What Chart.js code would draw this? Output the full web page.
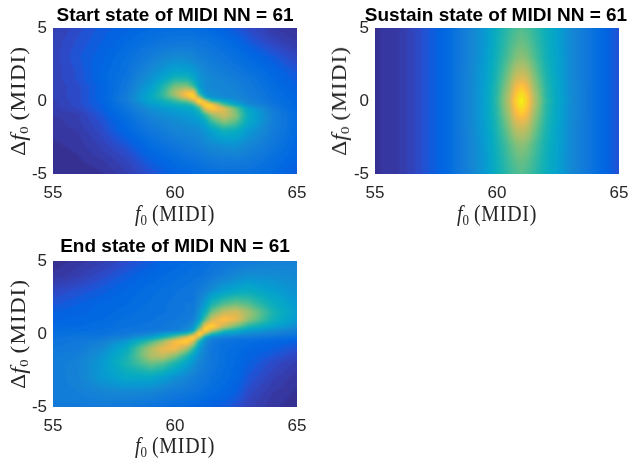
<!DOCTYPE html>
<html>
<head>
<meta charset="utf-8">
<style>
  html, body { margin: 0; background: #fff; }
  #page { position: relative; width: 631px; height: 458px; overflow: hidden; }
  canvas { position: absolute; }
  .axis-label {
    position: absolute; white-space: nowrap; color: #262626;
    font: 20px "Liberation Serif", serif; line-height: 20px;
    transform: translate(-50%, -50%) scaleY(1.15);
  }
  .axis-label.rot { transform: translate(-50%, -50%) rotate(-90deg) scaleX(1.18); }
  .axis-label sub { font-size: 13px; line-height: 0; vertical-align: -3px; }
  .axis-label .unit { letter-spacing: 0.7px; margin-left: 5px; }
</style>
<script src="https://cdn.jsdelivr.net/npm/chart.js@4/dist/chart.umd.min.js"></script>
</head>
<body>
<div id="page">
  <canvas id="startChart" width="350" height="230" style="left:0;top:0"></canvas>
  <canvas id="sustainChart" width="312" height="230" style="left:340px;top:0"></canvas>
  <canvas id="endChart" width="350" height="228" style="left:0;top:230px"></canvas>

  <div class="axis-label" style="left:175px;top:213px"><i>f</i><sub>0</sub><span class="unit">(MIDI)</span></div>
  <div class="axis-label" style="left:497px;top:213px"><i>f</i><sub>0</sub><span class="unit">(MIDI)</span></div>
  <div class="axis-label" style="left:175px;top:445px"><i>f</i><sub>0</sub><span class="unit">(MIDI)</span></div>
  <div class="axis-label rot" style="left:18px;top:101px">&Delta;<i>f</i><sub>0</sub><span class="unit">(MIDI)</span></div>
  <div class="axis-label rot" style="left:339px;top:101px">&Delta;<i>f</i><sub>0</sub><span class="unit">(MIDI)</span></div>
  <div class="axis-label rot" style="left:18px;top:334px">&Delta;<i>f</i><sub>0</sub><span class="unit">(MIDI)</span></div>
</div>

<script>
// sample positions of every heatmap, finer around the note centre
const f0Values = [55, 56, 57, 58, 59, 59.5, 60, 60.5, 60.75, 61, 61.25, 61.5, 62, 62.5, 63, 64, 65];
const deltaValues = [5, 4, 3, 2, 1.5, 1, 0.5, 0.25, 0, -0.25, -0.5, -1, -1.5, -2, -3, -4, -5];

// one row per deltaValues entry, one column per f0Values entry (0..100 of the colour range)
const startValues = [
  [5, 8, 11, 13, 15, 16, 16, 16, 16, 15, 15, 14, 12, 10, 8, 4, 2],
  [6, 9, 12, 15, 18, 19, 20, 20, 20, 19, 19, 18, 16, 14, 11, 7, 4],
  [6, 10, 13, 17, 22, 25, 27, 26, 25, 23, 22, 21, 19, 17, 15, 11, 7],
  [6, 9, 14, 18, 27, 32, 37, 36, 33, 29, 26, 24, 22, 20, 18, 14, 10],
  [6, 9, 14, 19, 30, 37, 47, 46, 40, 31, 28, 26, 24, 22, 20, 15, 11],
  [6, 8, 13, 20, 34, 46, 60, 62, 52, 33, 27, 26, 25, 24, 21, 16, 12],
  [6, 8, 13, 21, 38, 50, 68, 88, 90, 45, 30, 28, 26, 25, 22, 17, 13],
  [6, 8, 13, 22, 39, 49, 60, 80, 94, 70, 38, 30, 27, 25, 23, 17, 13],
  [5, 8, 13, 22, 37, 42, 50, 58, 70, 100, 76, 50, 38, 30, 24, 18, 14],
  [5, 8, 12, 20, 33, 38, 42, 45, 50, 72, 94, 88, 54, 38, 27, 19, 14],
  [5, 7, 12, 19, 29, 32, 35, 38, 40, 50, 80, 90, 78, 58, 36, 21, 14],
  [4, 5, 10, 17, 25, 28, 30, 32, 34, 38, 48, 62, 74, 62, 40, 23, 15],
  [3, 5, 9, 15, 22, 25, 27, 29, 30, 32, 38, 48, 60, 54, 38, 23, 15],
  [3, 4, 8, 14, 20, 22, 25, 26, 27, 28, 31, 36, 44, 42, 33, 22, 15],
  [2, 3, 6, 10, 16, 18, 20, 22, 23, 24, 26, 27, 29, 30, 26, 20, 14],
  [1, 2, 4, 7, 12, 14, 16, 18, 18, 19, 20, 21, 22, 22, 21, 17, 13],
  [1, 1, 2, 5, 9, 11, 13, 14, 15, 15, 16, 16, 17, 17, 17, 15, 11]
];
const sustainValues = [
  [2, 4, 9, 15, 26, 32, 42, 50, 53, 55, 53, 50, 42, 35, 27, 17, 9],
  [2, 4, 9, 15, 26, 32, 43, 52, 56, 58, 56, 52, 43, 35, 27, 17, 9],
  [2, 4, 9, 15, 26, 33, 44, 55, 60, 63, 60, 55, 44, 36, 27, 17, 9],
  [2, 4, 9, 15, 27, 34, 46, 60, 69, 72, 69, 60, 46, 36, 27, 17, 9],
  [2, 4, 9, 15, 27, 34, 47, 63, 74, 78, 74, 63, 47, 37, 27, 17, 9],
  [2, 4, 9, 15, 27, 35, 48, 66, 80, 86, 80, 66, 48, 37, 28, 17, 9],
  [2, 4, 9, 15, 27, 35, 49, 69, 85, 94, 85, 69, 49, 37, 28, 17, 9],
  [2, 4, 9, 15, 27, 35, 49, 70, 87, 97, 87, 70, 49, 38, 28, 17, 9],
  [2, 4, 9, 15, 27, 35, 50, 71, 88, 100, 88, 71, 50, 38, 28, 17, 9],
  [2, 4, 9, 15, 27, 35, 49, 70, 87, 97, 87, 70, 49, 38, 28, 17, 9],
  [2, 4, 9, 15, 27, 35, 49, 69, 85, 94, 85, 69, 49, 37, 28, 17, 9],
  [2, 4, 9, 15, 27, 35, 48, 66, 80, 86, 80, 66, 48, 37, 28, 17, 9],
  [2, 4, 9, 15, 27, 34, 47, 63, 74, 78, 74, 63, 47, 37, 27, 17, 9],
  [2, 4, 9, 15, 27, 34, 46, 60, 69, 72, 69, 60, 46, 36, 27, 17, 9],
  [2, 4, 9, 15, 26, 33, 44, 55, 60, 63, 60, 55, 44, 36, 27, 17, 9],
  [2, 4, 9, 15, 26, 32, 43, 52, 56, 58, 56, 52, 43, 35, 27, 17, 9],
  [2, 4, 9, 15, 26, 32, 42, 50, 53, 55, 53, 50, 42, 35, 27, 17, 9]
];
const endValues = [
  [1, 3, 5, 8, 11, 13, 14, 15, 16, 16, 17, 18, 19, 20, 21, 23, 24],
  [3, 5, 8, 11, 14, 15, 16, 17, 18, 18, 19, 20, 23, 26, 28, 28, 26],
  [7, 9, 11, 14, 16, 17, 18, 19, 19, 22, 24, 28, 34, 38, 40, 34, 29],
  [10, 12, 14, 15, 17, 18, 19, 20, 20, 26, 35, 46, 56, 60, 56, 42, 32],
  [12, 13, 14, 16, 18, 18, 19, 20, 21, 30, 42, 58, 72, 76, 66, 46, 33],
  [13, 14, 15, 17, 18, 19, 20, 21, 23, 34, 55, 74, 86, 80, 64, 44, 32],
  [15, 15, 16, 18, 19, 20, 21, 24, 30, 52, 88, 92, 72, 58, 46, 36, 27],
  [16, 16, 17, 19, 20, 21, 22, 28, 36, 72, 94, 74, 50, 42, 35, 28, 23],
  [17, 18, 18, 20, 26, 33, 40, 48, 65, 100, 66, 46, 34, 31, 27, 23, 20],
  [18, 19, 20, 25, 36, 46, 60, 82, 94, 68, 34, 26, 22, 20, 20, 18, 16],
  [19, 20, 23, 32, 52, 65, 84, 92, 76, 44, 28, 21, 18, 17, 16, 14, 12],
  [20, 21, 27, 40, 68, 80, 82, 66, 50, 32, 24, 20, 17, 16, 14, 12, 9],
  [21, 23, 30, 44, 68, 72, 62, 46, 36, 28, 23, 20, 17, 15, 13, 10, 7],
  [22, 24, 32, 46, 58, 55, 46, 36, 30, 25, 22, 20, 17, 15, 12, 8, 5],
  [22, 24, 32, 38, 38, 34, 29, 25, 23, 21, 20, 18, 16, 14, 10, 6, 3],
  [22, 23, 25, 26, 25, 23, 21, 20, 19, 18, 17, 16, 14, 12, 8, 4, 2],
  [21, 21, 21, 20, 18, 17, 16, 15, 14, 14, 13, 12, 11, 9, 6, 3, 1]
];

const chartTitles = ["Start state of MIDI NN = 61", "Sustain state of MIDI NN = 61", "End state of MIDI NN = 61"];

// parula, 64 levels
const parula = [
  [.2081,.1663,.5292],[.2116,.1898,.5777],[.2123,.2138,.6270],[.2081,.2386,.6771],[.1959,.2645,.7279],[.1707,.2919,.7792],[.1253,.3242,.8303],[.0591,.3598,.8683],
  [.0117,.3875,.8820],[.0060,.4086,.8828],[.0165,.4266,.8786],[.0329,.4430,.8720],[.0498,.4586,.8641],[.0629,.4737,.8554],[.0723,.4887,.8467],[.0779,.5040,.8384],
  [.0793,.5200,.8312],[.0749,.5375,.8263],[.0641,.5570,.8240],[.0488,.5772,.8228],[.0343,.5966,.8199],[.0265,.6137,.8135],[.0239,.6287,.8038],[.0231,.6418,.7913],
  [.0228,.6535,.7768],[.0267,.6642,.7607],[.0384,.6743,.7436],[.0590,.6838,.7254],[.0843,.6928,.7062],[.1133,.7015,.6859],[.1453,.7098,.6646],[.1801,.7177,.6424],
  [.2178,.7250,.6193],[.2586,.7317,.5954],[.3022,.7376,.5712],[.3482,.7424,.5473],[.3953,.7459,.5244],[.4420,.7481,.5033],[.4871,.7491,.4840],[.5300,.7491,.4661],
  [.5709,.7485,.4494],[.6099,.7473,.4337],[.6473,.7456,.4188],[.6834,.7435,.4044],[.7184,.7411,.3905],[.7525,.7384,.3768],[.7858,.7356,.3633],[.8185,.7327,.3498],
  [.8507,.7299,.3360],[.8824,.7274,.3217],[.9139,.7258,.3063],[.9450,.7261,.2886],[.9739,.7314,.2666],[.9938,.7455,.2403],[.9990,.7653,.2164],[.9955,.7861,.1967],
  [.9880,.8066,.1794],[.9789,.8271,.1633],[.9697,.8481,.1475],[.9626,.8705,.1309],[.9589,.8949,.1132],[.9598,.9218,.0948],[.9661,.9514,.0755],[.9763,.9831,.0538]
];

function bracket(list, value) {
  for (let i = 0; i < list.length - 1; i++) {
    const a = list[i], b = list[i + 1];
    if ((value - a) * (value - b) <= 0) return [i, (value - a) / (b - a)];
  }
  return [list.length - 2, 1];
}

// paints the grid through the chart's scales, shaded like MATLAB's "shading interp"
const heatmapPlugin = {
  id: "heatmap",
  beforeDatasetsDraw(chart) {
    const { ctx, chartArea: area, scales } = chart;
    const grid = chart.data.datasets[0].grid;
    const x0 = Math.round(area.left), y0 = Math.round(area.top);
    const w = Math.round(area.right - area.left), h = Math.round(area.bottom - area.top);
    const buffer = document.createElement("canvas");
    buffer.width = w;
    buffer.height = h;
    const bctx = buffer.getContext("2d");
    const img = bctx.createImageData(w, h);
    for (let py = 0; py < h; py++) {
      const [r, tr] = bracket(deltaValues, scales.y.getValueForPixel(area.top + py + 0.5));
      for (let px = 0; px < w; px++) {
        const [c, tc] = bracket(f0Values, scales.x.getValueForPixel(area.left + px + 0.5));
        const top = grid[r][c] * (1 - tc) + grid[r][c + 1] * tc;
        const bottom = grid[r + 1][c] * (1 - tc) + grid[r + 1][c + 1] * tc;
        const v = top * (1 - tr) + bottom * tr;
        const rgb = parula[Math.min(63, Math.round(v / 100 * 63))];
        const o = (py * w + px) * 4;
        img.data[o] = rgb[0] * 255;
        img.data[o + 1] = rgb[1] * 255;
        img.data[o + 2] = rgb[2] * 255;
        img.data[o + 3] = 255;
      }
    }
    bctx.putImageData(img, 0, 0);
    // the source picture is soft, so take the edge off the cells
    ctx.save();
    ctx.beginPath();
    ctx.rect(x0, y0, w, h);
    ctx.clip();
    ctx.drawImage(buffer, x0, y0);
    ctx.filter = "blur(1px)";
    ctx.drawImage(buffer, x0, y0);
    ctx.restore();
  }
};

function heatmap(canvasId, title, grid, yWidth, rightInset, pad, titlePad) {
  const points = [];
  grid.forEach((row, r) => row.forEach((v, c) => points.push({ x: f0Values[c], y: deltaValues[r], v })));
  return new Chart(document.getElementById(canvasId), {
    type: "scatter",
    data: { datasets: [{ data: points, grid, pointRadius: 0 }] },
    plugins: [heatmapPlugin],
    options: {
      responsive: false,
      animation: false,
      layout: { padding: pad },
      plugins: {
        legend: { display: false },
        tooltip: { enabled: false },
        title: {
          display: true,
          text: title,
          color: "#000",
          padding: titlePad,
          font: { family: "Liberation Sans", size: 19, weight: "bold", lineHeight: 1.2 }
        }
      },
      scales: {
        x: {
          type: "linear", min: 55, max: 65,
          grid: { display: false, drawTicks: false }, border: { display: false },
          ticks: { stepSize: 5, padding: 9, color: "#262626", maxRotation: 0, font: { family: "Liberation Sans", size: 17 } },
          afterFit: (s) => { s.height = 42; s.paddingLeft = 0; s.paddingRight = rightInset; }
        },
        y: {
          type: "linear", min: -5, max: 5,
          grid: { display: false, drawTicks: false }, border: { display: false },
          ticks: { stepSize: 5, padding: 6, color: "#262626", font: { family: "Liberation Sans", size: 17 } },
          afterFit: (s) => { s.width = yWidth; s.paddingTop = 0; s.paddingBottom = 0; }
        }
      }
    }
  });
}

heatmap("startChart", chartTitles[0], startValues, 53, 53, { top: 4, bottom: 14 }, { top: 0, bottom: 1.2 });
heatmap("sustainChart", chartTitles[1], sustainValues, 35, 33, { top: 4, bottom: 14 }, { top: 0, bottom: 1.2 });
heatmap("endChart", chartTitles[2], endValues, 53, 53, { top: 5, bottom: 9 }, { top: 0, bottom: 3.2 });
</script>
</body>
</html>
